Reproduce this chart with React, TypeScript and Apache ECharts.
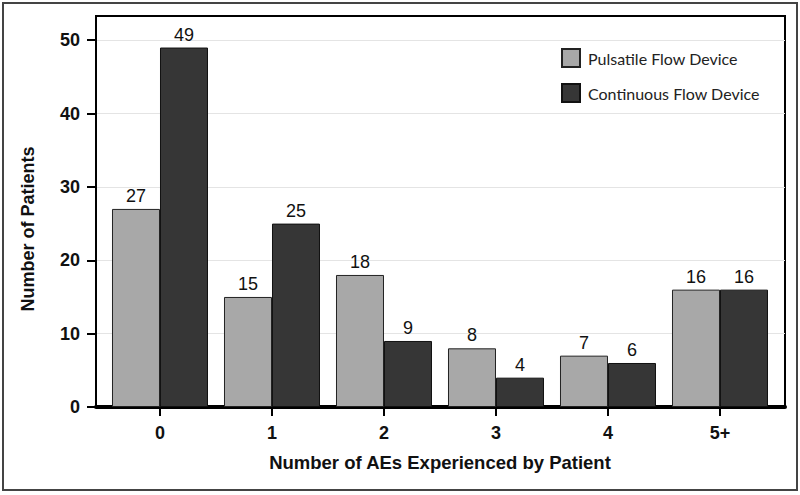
import React, { useEffect, useRef } from "react";
import * as echarts from "echarts";

const categories = ["0", "1", "2", "3", "4", "5+"];
const pulsatile = [27, 15, 18, 8, 7, 16];
const continuous = [49, 25, 9, 4, 6, 16];
const yTicks = [0, 10, 20, 30, 40, 50];
const seriesNames = ["Pulsatile Flow Device", "Continuous Flow Device"];

const FONT = "Arial";

export default function App() {
  const ref = useRef<HTMLDivElement>(null);
  useEffect(() => {
    if (!ref.current) return;
    const chart = echarts.init(ref.current, undefined, { renderer: "svg" });
    const catIdx = categories.map((_, i) => i);
    const mk = (vals: number[]) => vals.map((v, i) => [catIdx[i], v]);
    const label = {
      show: true,
      position: "top",
      distance: 4,
      fontFamily: FONT,
      fontSize: 18,
      color: "#111",
    };
    chart.setOption({
      animation: false,
      backgroundColor: "#fff",
      textStyle: { fontFamily: FONT },
      grid: { left: 96, right: 15, top: 16, bottom: 88, show: true, borderColor: "#000", borderWidth: 2 },
      legend: {
        orient: "vertical",
        left: 561,
        top: 48,
        padding: 0,
        itemWidth: 18,
        itemHeight: 18,
        itemGap: 15,
        icon: "rect",
        data: seriesNames,
        textStyle: { fontFamily: "Lato", fontSize: 16, color: "#222", padding: [0, 0, 0, 3] },
      },
      xAxis: {
        type: "value",
        min: -0.5714,
        max: 5.5804,
        splitLine: { show: false },
        axisLine: { show: true, onZero: false, lineStyle: { color: "#000", width: 4 } },
        axisTick: { show: true, customValues: catIdx, length: 9, lineStyle: { color: "#000", width: 2 } },
        axisLabel: {
          customValues: catIdx,
          formatter: (v: number) => categories[Math.round(v)] ?? "",
          fontFamily: FONT,
          fontSize: 18,
          fontWeight: "bold",
          color: "#111",
          margin: 17,
        },
      },
      yAxis: {
        type: "value",
        min: 0,
        max: 53.3,
        splitLine: { show: true, lineStyle: { color: "#e4e4e4", width: 1 } },
        axisLine: { show: true, onZero: false, lineStyle: { color: "#000", width: 2 } },
        axisTick: { show: true, customValues: yTicks, length: 9, lineStyle: { color: "#000", width: 2 } },
        axisLabel: {
          customValues: yTicks,
          fontFamily: FONT,
          fontSize: 18,
          fontWeight: "bold",
          color: "#111",
          margin: 16,
        },
      },
      series: [
        {
          name: seriesNames[0],
          type: "bar",
          barWidth: 48,
          barGap: "0%",
          data: mk(pulsatile),
          itemStyle: { color: "#a8a8a8", borderColor: "#222", borderWidth: 1 },
          label,
        },
        {
          name: seriesNames[1],
          type: "bar",
          barWidth: 48,
          barGap: "0%",
          data: mk(continuous),
          itemStyle: { color: "#363636", borderColor: "#111", borderWidth: 1 },
          label,
        },
      ],
      graphic: [
        {
          type: "rect",
          shape: { x: 3, y: 3, width: 794, height: 487 },
          style: { fill: "none", stroke: "#444", lineWidth: 2 },
          silent: true,
        },
        {
          type: "text",
          x: 28,
          y: 229,
          rotation: Math.PI / 2,
          style: {
            text: "Number of Patients",
            fontFamily: FONT,
            fontSize: 18,
            fontWeight: "bold",
            fill: "#111",
            textAlign: "center",
            textVerticalAlign: "middle",
          },
        },
        {
          type: "text",
          x: 440,
          y: 462,
          style: {
            text: "Number of AEs Experienced by Patient",
            fontFamily: FONT,
            fontSize: 18.5,
            fontWeight: "bold",
            fill: "#111",
            textAlign: "center",
            textVerticalAlign: "middle",
          },
        },
      ],
    });
    return () => chart.dispose();
  }, []);
  return <div ref={ref} style={{ position: "fixed", left: 0, top: 0, width: 800, height: 495 }} />;
}
